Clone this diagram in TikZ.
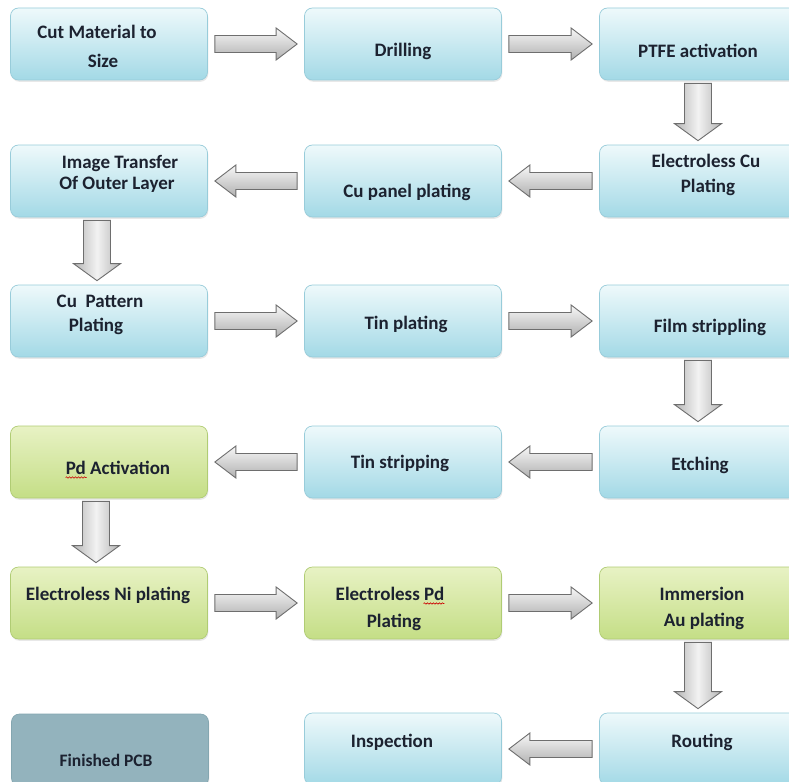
\documentclass[tikz,border=0pt]{standalone}
\usepackage{fontspec}
\setmainfont{Carlito}
\usetikzlibrary{calc,shadows,decorations.pathmorphing}
\definecolor{bhi}{HTML}{EEF9FB}
\definecolor{blo}{HTML}{A3D9E6}
\definecolor{bbd}{HTML}{98CCDA}
\definecolor{ghi}{HTML}{E8F2C4}
\definecolor{glo}{HTML}{C4DE86}
\definecolor{gbd}{HTML}{B0CC74}
\definecolor{pcb}{HTML}{93B3BD}
\definecolor{pcbbd}{HTML}{84A6B0}
\definecolor{txt}{HTML}{1C2230}
\definecolor{abd}{HTML}{6E6E6E}
\begin{document}
\begin{tikzpicture}[x=1pt,y=-1pt,
  box/.style={rectangle, rounded corners=8pt, minimum width=197pt, minimum height=72pt,
    inner sep=0pt, line width=0.7pt,
    drop shadow={shadow xshift=0.8pt, shadow yshift=-1.8pt, opacity=0.18}},
  bluebox/.style={box, draw=bbd, top color=bhi, bottom color=blo},
  greenbox/.style={box, draw=gbd, top color=ghi, bottom color=glo},
  pcbbox/.style={box, draw=pcbbd, fill=pcb},
  lbl/.style={font=\bfseries\fontsize{19}{22}\selectfont, text=txt, inner sep=0pt,
    text height=13pt, text depth=4pt},
  squig/.style={draw=red!80!black, line width=0.6pt, decorate,
    decoration={snake, amplitude=0.7pt, segment length=3pt}},
  hR/.style={draw=abd, line width=0.9pt, top color=gray!6, bottom color=gray!62,
    to path={let \p1=(\tikztostart), \p2=(\tikztotarget) in
      (\x1+7pt,\y1+8.5pt) -- (\x2-28pt,\y1+8.5pt) -- (\x2-28pt,\y1+16pt) --
      (\x2-7pt,\y1) -- (\x2-28pt,\y1-16pt) -- (\x2-28pt,\y1-8.5pt) --
      (\x1+7pt,\y1-8.5pt) -- cycle}},
  hL/.style={draw=abd, line width=0.9pt, top color=gray!6, bottom color=gray!62,
    to path={let \p1=(\tikztostart), \p2=(\tikztotarget) in
      (\x1-7pt,\y1+8.5pt) -- (\x2+28pt,\y1+8.5pt) -- (\x2+28pt,\y1+16pt) --
      (\x2+7pt,\y1) -- (\x2+28pt,\y1-16pt) -- (\x2+28pt,\y1-8.5pt) --
      (\x1-7pt,\y1-8.5pt) -- cycle}},
  vD/.style={draw=abd, line width=0.9pt, left color=gray!58, right color=gray!58,
    middle color=gray!10,
    to path={let \p1=(\tikztostart), \p2=(\tikztotarget) in
      (\x1-13.5pt,\y1-3pt) -- (\x1-13.5pt,\y2+21pt) -- (\x1-23.5pt,\y2+21pt) --
      (\x1,\y2+4pt) -- (\x1+23.5pt,\y2+21pt) -- (\x1+13.5pt,\y2+21pt) --
      (\x1+13.5pt,\y1-3pt) -- cycle}}
]
\useasboundingbox (0,0) rectangle (789,781);
\clip (0,0) rectangle (789,781);
\fill[white] (0,0) rectangle (789,781);

% boxes
\node[bluebox]  (b1)  at (109,44)  {};
\node[bluebox]  (b2)  at (403,44)  {};
\node[bluebox]  (b3)  at (698,44)  {};
\node[bluebox]  (b4)  at (698,181) {};
\node[bluebox]  (b5)  at (403,181) {};
\node[bluebox]  (b6)  at (109,181) {};
\node[bluebox]  (b7)  at (109,321) {};
\node[bluebox]  (b8)  at (403,321) {};
\node[bluebox]  (b9)  at (698,321) {};
\node[bluebox]  (b10) at (698,462) {};
\node[bluebox]  (b11) at (403,462) {};
\node[greenbox] (b12) at (109,462) {};
\node[greenbox] (b13) at (109,603) {};
\node[greenbox] (b14) at (403,603) {};
\node[greenbox] (b15) at (698,603) {};
\node[bluebox]  (b16) at (698,749) {};
\node[bluebox]  (b17) at (403,749) {};
\node[pcbbox]   (b18) at (110,750) {};

% labels
\node[lbl] (t1a) at (97,34)   {Cut Material to};
\node[lbl] (t1b) at (103,63)  {Size};
\node[lbl] (t2)  at (403,52)  {Drilling};
\node[lbl] (t3)  at (698,53)  {PTFE activation};
\node[lbl] (t4a) at (706,163) {Electroless Cu};
\node[lbl] (t4b) at (708,188) {Plating};
\node[lbl] (t5)  at (407,193) {Cu panel plating};
\node[lbl] (t6a) at (120,164) {Image Transfer};
\node[lbl] (t6b) at (117,185) {Of Outer Layer};
\node[lbl] (t7a) at (100,303) {Cu~ Pattern};
\node[lbl] (t7b) at (96,327)  {Plating};
\node[lbl] (t8)  at (406,325) {Tin plating};
\node[lbl] (t9)  at (710,328) {Film strippling};
\node[lbl] (t10) at (700,466) {Etching};
\node[lbl] (t11) at (400,464) {Tin stripping};
\node[lbl] (t12) at (118,470) {Pd Activation};
\node[lbl] (t13) at (108,596) {Electroless Ni plating};
\node[lbl] (t14a) at (390,596) {Electroless Pd};
\node[lbl] (t14b) at (394,623) {Plating};
\node[lbl] (t15a) at (702,596) {Immersion};
\node[lbl] (t15b) at (704,622) {Au plating};
\node[lbl] (t16) at (702,743) {Routing};
\node[lbl] (t17) at (392,743) {Inspection};
\node[lbl, font=\bfseries\fontsize{17.5}{20}\selectfont] (t18) at (106,762) {Finished PCB};

% spell-check squiggles under "Pd"
\draw[squig] ([yshift=-3pt]t12.base west) -- ++(21,0);
\draw[squig] ([yshift=-3pt,xshift=-21pt]t14a.base east) -- ++(21,0);

% block arrows
\path[hR] (b1.east) to (b2.west);
\path[hR] (b2.east) to (b3.west);
\path[vD] (b3.south) to (b4.north);
\path[hL] (b4.west) to (b5.east);
\path[hL] (b5.west) to (b6.east);
\path[vD] ([xshift=-12pt]b6.south) to ([xshift=-12pt]b7.north);
\path[hR] (b7.east) to (b8.west);
\path[hR] (b8.east) to (b9.west);
\path[vD] (b9.south) to (b10.north);
\path[hL] (b10.west) to (b11.east);
\path[hL] (b11.west) to (b12.east);
\path[vD] ([xshift=-13pt]b12.south) to ([xshift=-13pt]b13.north);
\path[hR] (b13.east) to (b14.west);
\path[hR] (b14.east) to (b15.west);
\path[vD] (b15.south) to (b16.north);
\path[hL] (b16.west) to (b17.east);
\end{tikzpicture}
\end{document}
